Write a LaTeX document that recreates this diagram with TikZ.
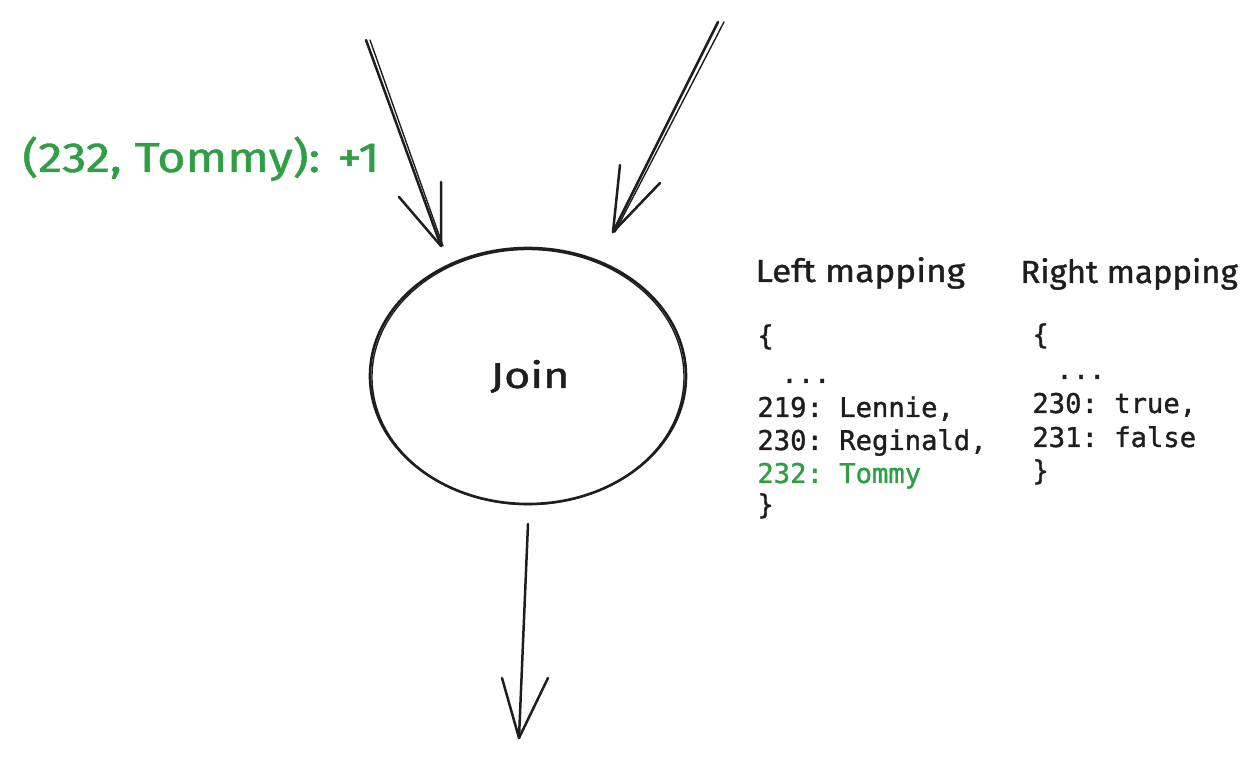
\documentclass[tikz,border=0pt]{standalone}
\usepackage{fontspec}
\usetikzlibrary{shapes.geometric}
\setmainfont{Fira Sans}
\setmonofont[FakeBold=1.2]{DejaVu Sans Mono}
\newfontfamily\handfont[FakeBold=1.0]{Fira Sans}
\definecolor{ink}{HTML}{1E1E1E}
\definecolor{grn}{HTML}{2F9E44}
\tikzset{
  stroke/.style={draw=ink, line width=1.25pt, line cap=round, line join=round},
  thin stroke/.style={draw=ink, line width=0.7pt, line cap=round},
  hand/.style={inner sep=0pt, anchor=base west, text=ink},
  code/.style={inner sep=0pt, anchor=base west, text=ink, font=\ttfamily\fontsize{13.6}{16}\selectfont},
}
\begin{document}
\begin{tikzpicture}[x=0.5pt,y=-0.5pt]
\useasboundingbox (0,0) rectangle (1260,759);
% Join ellipse
\node[draw=ink, line width=1.3pt, ellipse, minimum width=158pt, minimum height=128pt, inner sep=0pt] (join) at (528,376) {};
\draw[thin stroke] (528,377) ellipse [x radius=156, y radius=127.5];
\node[hand, font=\handfont\fontsize{18}{20}\selectfont] (jointext) at (490,388) {\scalebox{1.25}[1]{Join}};
% left incoming arrow
\coordinate (ls) at (366,40);
\coordinate (lt) at (441,246);
\coordinate (la1) at (399,197);
\coordinate (la2) at (441,182);
\draw[stroke] (ls) -- (lt);
\draw[thin stroke] ([xshift=2]ls) -- ([xshift=1]lt);
\draw[stroke] (la1) -- (lt) -- (la2);
% right incoming arrow
\coordinate (rs) at (718,22);
\coordinate (rt) at (613,232);
\coordinate (ra1) at (620,165);
\coordinate (ra2) at (660,183);
\draw[stroke] (rs) -- (rt);
\draw[thin stroke] ([xshift=3]rs) -- ([xshift=1]rt);
\draw[stroke] (ra1) -- (rt) -- (ra2);
% outgoing arrow
\coordinate (os) at (528,524);
\coordinate (ot) at (519,738);
\coordinate (oa1) at (502,678);
\coordinate (oa2) at (548,678);
\draw[stroke] (os) -- (ot);
\draw[stroke] (oa1) -- (ot) -- (oa2);
% delta label
\node[hand, text=grn, font=\handfont\fontsize{21}{24}\selectfont] (delta) at (22,172) {\scalebox{1.16}[1]{(232, Tommy): +1}};
% headings
\node[hand, font=\handfont\fontsize{16}{18}\selectfont] (lhead) at (755,282) {\scalebox{1.1}[1]{Left mapping}};
\node[hand, font=\handfont\fontsize{16}{18}\selectfont] (rhead) at (1020,283) {\scalebox{1.03}[1]{Right mapping}};
% left mapping
\node[code] (l0) at (757,345) {\{};
\node[code] (l1) at (781,383) {...};
\node[code] (l2) at (757,417) {219: Lennie,};
\node[code] (l3) at (757,450) {230: Reginald,};
\node[code, text=grn] (l4) at (757,483) {232: Tommy};
\node[code] (l5) at (757,514) {\}};
% right mapping
\node[code] (r0) at (1032,344) {\{};
\node[code] (r1) at (1056,379) {...};
\node[code] (r2) at (1032,413) {230: true,};
\node[code] (r3) at (1032,447) {231: false};
\node[code] (r4) at (1032,480) {\}};
\end{tikzpicture}
\end{document}
